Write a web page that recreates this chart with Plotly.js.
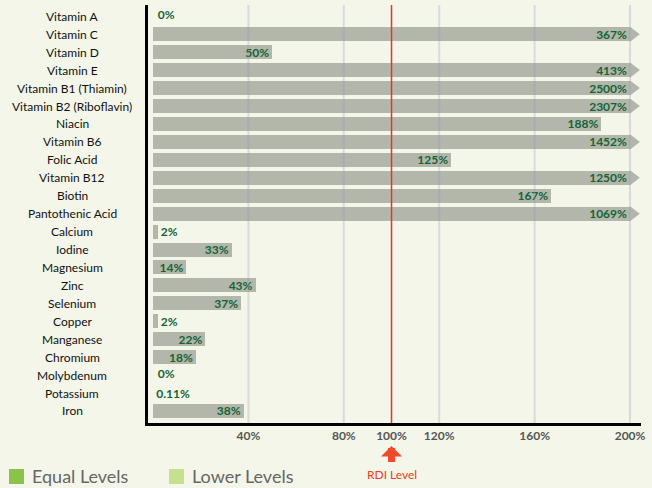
<!DOCTYPE html>
<html><head><meta charset="utf-8">
<script src="https://cdn.plot.ly/plotly-3.0.1.min.js"></script>
<style>html,body{margin:0;padding:0;background:#f3f6e9;}</style>
</head><body><div id="chart" style="width:652px;height:488px;"></div>
<script>
const categories = ["Vitamin A","Vitamin C","Vitamin D","Vitamin E","Vitamin B1 (Thiamin)","Vitamin B2 (Riboflavin)","Niacin","Vitamin B6","Folic Acid","Vitamin B12","Biotin","Pantothenic Acid","Calcium","Iodine","Magnesium","Zinc","Selenium","Copper","Manganese","Chromium","Molybdenum","Potassium","Iron"];
const values = [0,367,50,413,2500,2307,188,1452,125,1250,167,1069,2,33,14,43,37,2,22,18,0,0.11,38];
const tickValues = [40,80,100,120,160,200];
const tickLabels = ["40%","80%","100%","120%","160%","200%"];
const gridValues = [40,80,120,160,200];
const rdiLevel = 100;
const displayCap = 200;
const legendNames = ["Equal Levels","Lower Levels"];
const legendColors = ["#8bc34a","#c5e08f"];

const W = 652, H = 488, L = 148, R = 11, T = 5, B = 65;
const pw = W - L - R, ph = H - T - B;
const xRange = [-2.1, 204.6];
const pxPerUnit = pw / (xRange[1] - xRange[0]);
const px2x = px => (px - L) / pw;
const py2y = py => (H - B - py) / ph;

const capped = values.map(v => Math.min(v, displayCap));
const overIdx = values.map((v,i)=>v>displayCap?i:-1).filter(i=>i>=0);
const zeroIdx = values.map((v,i)=>v===0?i:-1).filter(i=>i>=0);
const lblFont = {family: 'Lato', size: 12, color: '#146436', weight: 700};

const bars = {
  type: 'bar', orientation: 'h',
  y: categories, x: capped,
  width: 0.78,
  marker: {color: '#b2b6ab', line: {width: 0}},
  text: values.map(v => v === 0 ? '' : v + '%'),
  textposition: 'auto', insidetextanchor: 'end', constraintext: 'none', textangle: 0,
  textfont: lblFont, insidetextfont: lblFont, outsidetextfont: lblFont,
  cliponaxis: false, showlegend: false, hoverinfo: 'skip'
};
const zeroLabels = {
  type: 'scatter', mode: 'markers+text',
  y: zeroIdx.map(i => categories[i]), x: zeroIdx.map(i => values[i]),
  marker: {size: 6, opacity: 0},
  text: zeroIdx.map(i => values[i] + '%'), textposition: 'middle right',
  textfont: lblFont, cliponaxis: false, showlegend: false, hoverinfo: 'skip'
};
const arrows = {
  type: 'scatter', mode: 'markers',
  y: overIdx.map(i => categories[i]),
  x: overIdx.map(i => displayCap + 3.3 / pxPerUnit),
  marker: {symbol: 'triangle-right', size: 13, color: '#b2b6ab', line: {width: 0}},
  cliponaxis: false, showlegend: false, hoverinfo: 'skip'
};

const shapes = gridValues.map(g => ({
  type: 'line', xref: 'x', yref: 'paper', x0: g, x1: g, y0: 0, y1: 1,
  line: {color: 'rgba(150,152,175,0.28)', width: 2}, layer: 'above'
}));
shapes.push({type: 'line', xref: 'x', yref: 'paper', x0: rdiLevel, x1: rdiLevel, y0: 0, y1: 1,
  line: {color: '#ee3124', width: 1.5}, layer: 'above'});

const annotations = categories.map(c => ({
  xref: 'paper', yref: 'y', x: px2x(72), y: c, text: c, showarrow: false,
  xanchor: 'center', yanchor: 'middle',
  font: {family: 'Lato', size: 12, color: '#111'}
}));
annotations.push({
  xref: 'x', yref: 'paper', x: rdiLevel, y: py2y(446), ax: 0, ay: 28,
  text: 'RDI Level', showarrow: true, arrowhead: 1, arrowwidth: 7, arrowsize: 0.5,
  arrowcolor: '#f04a2a', startstandoff: 3,
  font: {family: 'Lato', size: 12, color: '#ee3a26'}
});
// legend
const legX = [9, 169];
legendNames.forEach((n, i) => {
  shapes.push({type: 'rect', xref: 'paper', yref: 'paper',
    x0: px2x(legX[i]), x1: px2x(legX[i] + 15), y0: py2y(484), y1: py2y(469),
    fillcolor: legendColors[i], line: {width: 0}});
  annotations.push({xref: 'paper', yref: 'paper', x: px2x(legX[i] + 22), y: py2y(476),
    xanchor: 'left', yanchor: 'middle', text: n, showarrow: false, borderpad: 0,
    font: {family: 'Lato', size: 18, color: '#666'}});
});

const layout = {
  width: W, height: H,
  margin: {l: L, r: R, t: T, b: B, pad: 0},
  paper_bgcolor: '#f3f6e9', plot_bgcolor: '#f3f6e9',
  bargap: 0,
  xaxis: {range: xRange, tickvals: tickValues, ticktext: tickLabels, showgrid: false,
    zeroline: false, showline: true, linecolor: '#000', linewidth: 3, ticks: '',
    tickfont: {family: 'Lato', size: 12, color: '#555', weight: 700}, ticklabelstandoff: 0},
  yaxis: {type: 'category', range: [categories.length - 0.33, -0.63], showticklabels: false,
    showgrid: false, zeroline: false, showline: true, linecolor: '#000', linewidth: 3, ticks: ''},
  shapes: shapes, annotations: annotations, showlegend: false,
  font: {family: 'Lato'}
};
Plotly.newPlot('chart', [bars, arrows, zeroLabels], layout, {displayModeBar: false, staticPlot: true});
</script></body></html>
